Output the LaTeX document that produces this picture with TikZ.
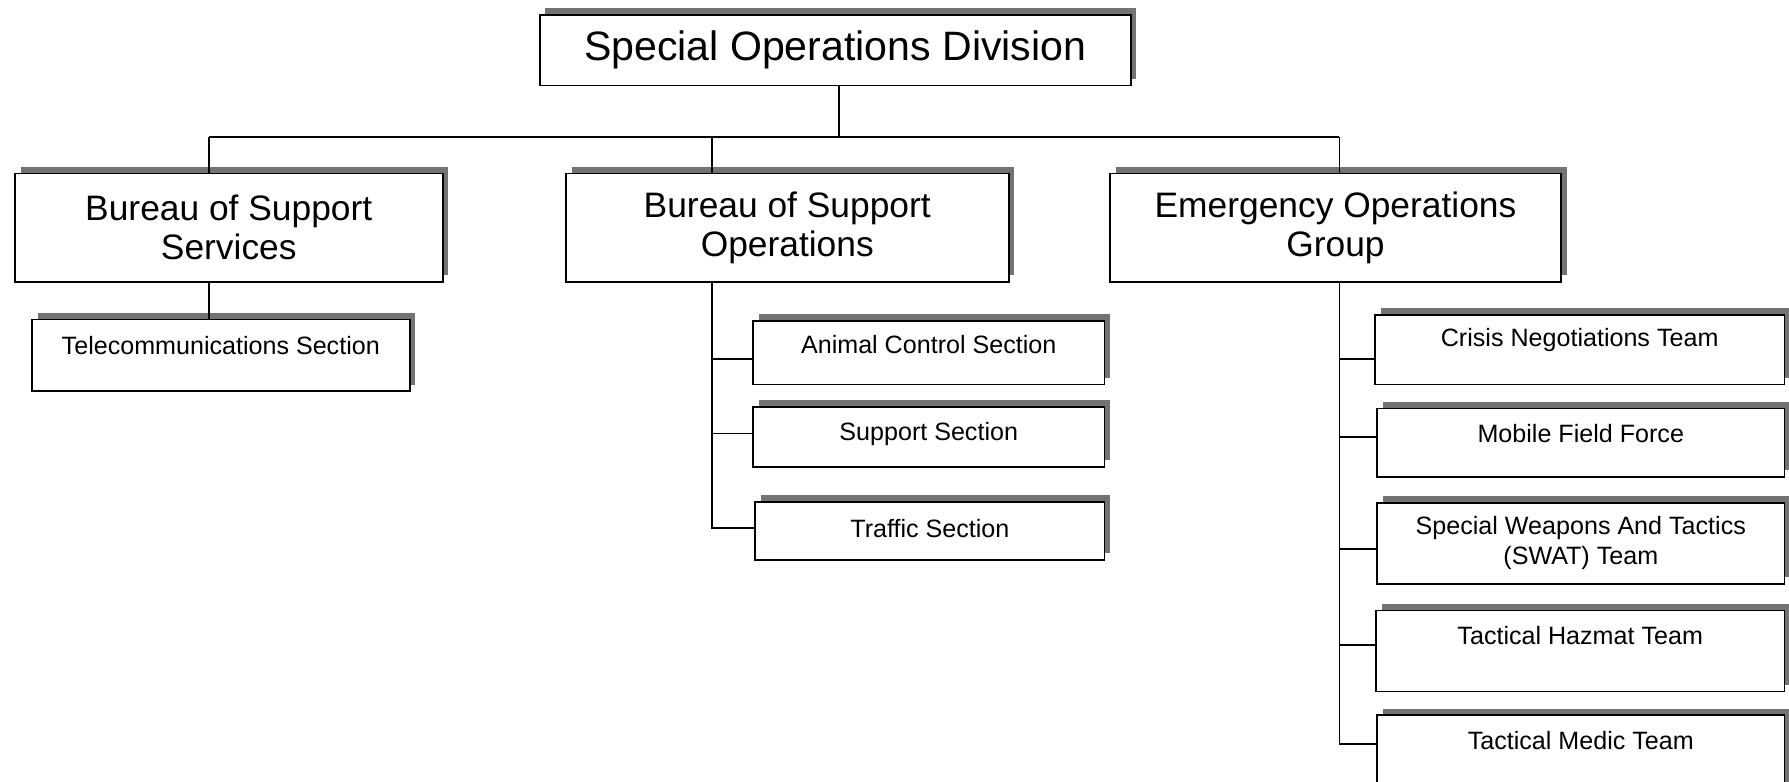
\documentclass[tikz,border=0pt]{standalone}
\usepackage{fontspec}
\setmainfont{Liberation Sans}
\usetikzlibrary{shadows}
\begin{document}
\begin{tikzpicture}[x=0.5pt,y=-0.5pt,
  box/.style={draw=black, line width=0.8pt, fill=white, inner sep=0pt,
    drop shadow={shadow xshift=2.5pt, shadow yshift=3pt, fill=black!55, opacity=1}},
  conn/.style={draw=black, line width=0.8pt},
  topfont/.style={font=\fontsize{18}{21.6}\selectfont},
  midfont/.style={font=\fontsize{15.5}{17}\selectfont, align=center},
  lowtxt/.style={font=\fontsize{11}{13}\selectfont, align=center, inner sep=0pt}
]
\useasboundingbox (0,0) rectangle (1568,685);

% top level
\node[box, minimum width=259pt, minimum height=31pt] (top) at (732,44) {};
\node[topfont] (toptxt) at (732,44) {Special Operations Division};

% second level
\node[box, midfont, minimum width=187.5pt, minimum height=47.5pt] (bss) at (200.5,199.5) {Bureau of Support\\Services};
\node[box, midfont, minimum width=194pt, minimum height=47.5pt] (bso) at (690,199.5) {Bureau of Support\\Operations};
\node[box, midfont, minimum width=197.5pt, minimum height=47.5pt] (eog) at (1170.5,199.5) {Emergency Operations\\Group};

% third level boxes
\node[box, minimum width=165.5pt, minimum height=31.5pt] (tel) at (193.5,311.5) {};
\node[lowtxt] (teltxt) at (193.5,303) {Telecommunications Section};

\node[box, minimum width=154pt, minimum height=28pt] (acs) at (814,309) {};
\node[lowtxt] (acstxt) at (814,302) {Animal Control Section};
\node[box, minimum width=154pt, minimum height=26pt] (sup) at (814,383) {};
\node[lowtxt] (suptxt) at (814,380) {Support Section};
\node[box, minimum width=153pt, minimum height=25.5pt] (trf) at (815,465.5) {};
\node[lowtxt] (trftxt) at (815,463) {Traffic Section};

\node[box, minimum width=179.5pt, minimum height=30.5pt] (cnt) at (1384.5,306.5) {};
\node[lowtxt] (cnttxt) at (1384.5,298) {Crisis Negotiations Team};
\node[box, minimum width=178.5pt, minimum height=30pt] (mff) at (1385.5,388) {};
\node[lowtxt] (mfftxt) at (1385.5,380) {Mobile Field Force};
\node[box, minimum width=178.5pt, minimum height=35.5pt] (swat) at (1385.5,476.5) {};
\node[lowtxt] (swattxt) at (1385.5,476) {Special Weapons And Tactics\\(SWAT) Team};
\node[box, minimum width=179pt, minimum height=35.5pt] (haz) at (1385,570.5) {};
\node[lowtxt] (haztxt) at (1385,557) {Tactical Hazmat Team};
\node[box, minimum width=178.5pt, minimum height=38pt] (med) at (1385.5,665) {};
\node[lowtxt] (medtxt) at (1385.5,649) {Tactical Medic Team};

% bus coordinates
\coordinate (busT) at (735,120);
\coordinate (busL) at (183,120);
\coordinate (busM) at (624,120);
\coordinate (busR) at (1174,120);
\coordinate (m1) at (624,315);
\coordinate (m2) at (624,380);
\coordinate (m3) at (624,463);
\coordinate (e1) at (1174,315);
\coordinate (e2) at (1174,383);
\coordinate (e3) at (1174,481);
\coordinate (e4) at (1174,565);
\coordinate (e5) at (1174,652);

% connectors
\draw[conn] (top.south -| busT) -- (busT);
\draw[conn] (busL) -- (busR);
\draw[conn] (busL) -- (busL |- bss.north);
\draw[conn] (busM) -- (busM |- bso.north);
\draw[conn] (busR) -- (busR |- eog.north);
\draw[conn] (bss.south -| busL) -- (busL |- tel.north);

\draw[conn] (bso.south -| busM) -- (m3) -- (m3 -| trf.west);
\draw[conn] (m1) -- (m1 -| acs.west);
\draw[conn] (m2) -- (m2 -| sup.west);

\draw[conn] (eog.south -| busR) -- (e5) -- (e5 -| med.west);
\draw[conn] (e1) -- (e1 -| cnt.west);
\draw[conn] (e2) -- (e2 -| mff.west);
\draw[conn] (e3) -- (e3 -| swat.west);
\draw[conn] (e4) -- (e4 -| haz.west);
\end{tikzpicture}
\end{document}
